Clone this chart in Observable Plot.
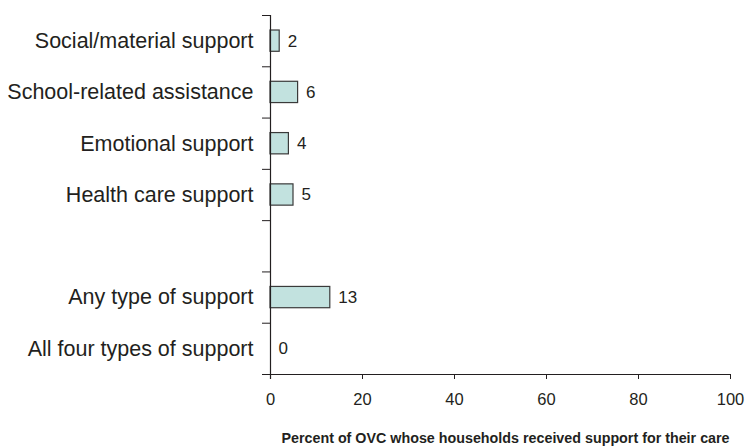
<!DOCTYPE html>
<html>
<head>
<meta charset="utf-8">
<script src="https://cdn.jsdelivr.net/npm/d3@7"></script>
<script src="https://cdn.jsdelivr.net/npm/@observablehq/plot@0.6"></script>
<style>
  html, body { margin: 0; padding: 0; background: #fff; }
  #chart svg { display: block; }
</style>
</head>
<body>
<div id="chart"></div>
<script>
// Categories top to bottom; "" is the empty gap row
const categories = [
  "Social/material support",
  "School-related assistance",
  "Emotional support",
  "Health care support",
  "",
  "Any type of support",
  "All four types of support"
];
const values = [2, 6, 4, 5, null, 13, 0];
const xTicks = [0, 20, 40, 60, 80, 100];
const xLabel = "Percent of OVC whose households received support for their care";

const rows = categories.map((c, i) => ({cat: c, idx: i, value: values[i]}));
const bars = rows.filter(d => d.value != null && d.value > 0);
const labeled = rows.filter(d => d.value != null);
const edges = d3.range(categories.length + 1);

const ink = "#231f20";

const plot = Plot.plot({
  width: 745,
  height: 446,
  marginLeft: 270,
  marginRight: 15,
  marginTop: 15,
  marginBottom: 72,
  style: {fontFamily: "'Liberation Sans', Arial, sans-serif", color: ink, background: "#fff"},
  x: {type: "linear", domain: [0, 100]},
  y: {type: "linear", domain: [0, categories.length], reverse: true, axis: null},
  marks: [
    Plot.rectX(bars, {
      x1: 0, x2: "value",
      y1: "idx", y2: d => d.idx + 1,
      insetTop: 15, insetBottom: 15,
      fill: "#c2e2df", stroke: "#3a3a3a", strokeWidth: 1.2
    }),
    Plot.text(labeled, {
      x: "value", y: d => d.idx + 0.5,
      text: d => String(d.value),
      dx: 8, textAnchor: "start", fontSize: 17, fill: ink
    }),
    Plot.text(rows, {
      x: 0, y: d => d.idx + 0.5,
      text: "cat",
      dx: -17, textAnchor: "end", fontSize: 21.5, fill: ink
    }),
    // y axis line and band-edge ticks
    Plot.ruleX([0], {y1: 0, y2: categories.length, insetBottom: -5, stroke: ink, strokeWidth: 1.2}),
    Plot.ruleY(edges, {y: d => d, x1: 0, x2: 0, insetLeft: -8, stroke: ink, strokeWidth: 1}),
    // x axis line
    Plot.ruleY([categories.length], {x1: 0, x2: 100, insetLeft: -6, stroke: ink, strokeWidth: 1.2}),
    Plot.axisX({
      ticks: xTicks, tickSize: 5, tickPadding: 14, fontSize: 16.5,
      label: xLabel, labelAnchor: "center", labelArrow: "none", labelOffset: 68
    })
  ]
});

d3.select(plot).selectAll("[aria-label='x-axis label'] text")
  .attr("font-weight", "bold").attr("font-size", 14.3).attr("dx", 5);

document.getElementById("chart").appendChild(plot);
</script>
</body>
</html>
